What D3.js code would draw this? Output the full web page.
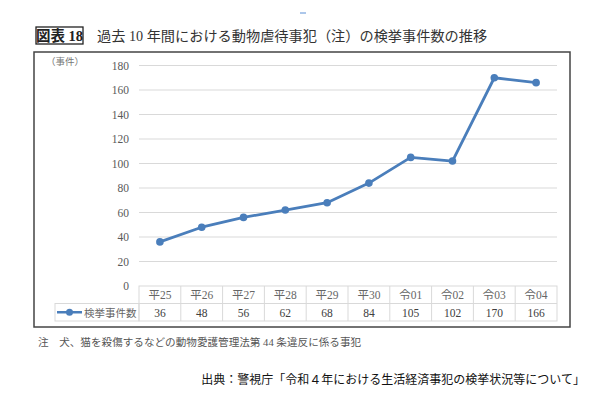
<!DOCTYPE html>
<html>
<head>
<meta charset="utf-8">
<script src="https://cdn.jsdelivr.net/npm/d3@7"></script>
<style>
  body { margin: 0; background: #fff; }
  text { font-family: "Liberation Serif", "Noto Sans CJK JP", serif; }
</style>
</head>
<body>
<script>
    var years = ["平25", "平26", "平27", "平28", "平29", "平30", "令01", "令02", "令03", "令04"];
    var cases = [36, 48, 56, 62, 68, 84, 105, 102, 170, 166];
    var yTicks = [0, 20, 40, 60, 80, 100, 120, 140, 160, 180];
    var seriesName = "検挙事件数";

    var width = 600, height = 400;
    var blue = "#4a7ebb";

    var svg = d3.select("body")
        .append("svg").attr("width", width).attr("height", height);

    // tiny mark at the top of the page
    svg.append("line")
        .attr("x1", 300).attr("x2", 306).attr("y1", 13).attr("y2", 13)
        .style("stroke", "#5b8fd6").style("stroke-width", 1);

    // title box
    svg.append("rect")
        .attr("x", 36).attr("y", 27).attr("width", 47).attr("height", 17)
        .style("fill", "none").style("stroke", "#222").style("stroke-width", 1.3);
    svg.append("text")
        .attr("x", 59.5).attr("y", 41)
        .attr("text-anchor", "middle")
        .style("font-size", "14.5px").style("font-weight", "bold").style("fill", "#222")
        .text("図表 18");
    svg.append("text")
        .attr("x", 97).attr("y", 41)
        .style("font-size", "14.2px").style("fill", "#333")
        .text("過去 10 年間における動物虐待事犯（注）の検挙事件数の推移");

    // chart frame
    svg.append("rect")
        .attr("x", 34).attr("y", 52).attr("width", 536).attr("height", 275)
        .style("fill", "none").style("stroke", "#444").style("stroke-width", 1.5);

    var x = d3.scaleBand().domain(years).range([139, 557]);
    var y = d3.scaleLinear().domain([0, 180]).range([286, 65.5]);

    // gridlines
    svg.append("g").selectAll("line")
        .data(yTicks.filter(function(d){ return d > 0; }))
        .enter().append("line")
        .attr("x1", 139).attr("x2", 557)
        .attr("y1", function(d){ return y(d); })
        .attr("y2", function(d){ return y(d); })
        .style("stroke", "#d9d9d9").style("stroke-width", 1);

    // y axis labels
    var yAxis = d3.axisLeft(y).tickValues(yTicks).tickSize(0).tickPadding(10);
    var ya = svg.append("g").attr("transform", "translate(139,0)").call(yAxis);
    ya.select(".domain").remove();
    ya.selectAll("text")
        .style("font-family", "Liberation Serif, serif")
        .style("font-size", "11.5px").style("fill", "#595959");

    svg.append("text")
        .attr("x", 46).attr("y", 65)
        .style("font-size", "9.5px").style("fill", "#777")
        .text("（事件）");

    // data table
    var table = svg.append("g");
    var rowTop = 286, rowH = 17.5;
    table.append("rect")
        .attr("x", 139).attr("y", rowTop).attr("width", 418).attr("height", rowH * 2)
        .style("fill", "none").style("stroke", "#d9d9d9");
    table.append("rect")
        .attr("x", 55).attr("y", rowTop + rowH).attr("width", 84).attr("height", rowH)
        .style("fill", "none").style("stroke", "#d9d9d9");
    table.append("line")
        .attr("x1", 139).attr("x2", 557).attr("y1", rowTop + rowH).attr("y2", rowTop + rowH)
        .style("stroke", "#d9d9d9");
    table.selectAll(".col").data(years.slice(1)).enter().append("line")
        .attr("x1", function(d){ return x(d); })
        .attr("x2", function(d){ return x(d); })
        .attr("y1", rowTop).attr("y2", rowTop + rowH * 2)
        .style("stroke", "#d9d9d9");

    table.selectAll(".cat").data(years).enter().append("text")
        .attr("x", function(d){ return x(d) + x.bandwidth() / 2; })
        .attr("y", rowTop + 13)
        .attr("text-anchor", "middle")
        .style("font-size", "11.5px").style("fill", "#666")
        .text(function(d){ return d; });
    table.selectAll(".val").data(cases).enter().append("text")
        .attr("x", function(d, i){ return x(years[i]) + x.bandwidth() / 2; })
        .attr("y", rowTop + rowH + 13)
        .attr("text-anchor", "middle")
        .style("font-size", "11.5px").style("fill", "#404040")
        .text(function(d){ return d; });

    // legend key in the table
    table.append("line")
        .attr("x1", 57).attr("x2", 82).attr("y1", rowTop + rowH * 1.5).attr("y2", rowTop + rowH * 1.5)
        .style("stroke", blue).style("stroke-width", 2.5);
    table.append("circle")
        .attr("cx", 69.5).attr("cy", rowTop + rowH * 1.5).attr("r", 3.5)
        .style("fill", blue);
    table.append("text")
        .attr("x", 84).attr("y", rowTop + rowH + 13)
        .style("font-size", "10.5px").style("fill", "#666")
        .text(seriesName);

    // line series
    var line = d3.line()
        .x(function(d, i){ return x(years[i]) + x.bandwidth() / 2; })
        .y(function(d){ return y(d); });
    svg.append("path").datum(cases)
        .attr("d", line)
        .style("fill", "none").style("stroke", blue).style("stroke-width", 2.8)
        .style("stroke-linejoin", "round");
    svg.selectAll(".pt").data(cases).enter().append("circle")
        .attr("cx", function(d, i){ return x(years[i]) + x.bandwidth() / 2; })
        .attr("cy", function(d){ return y(d); })
        .attr("r", 3.8)
        .style("fill", blue);

    // footnotes
    svg.append("text")
        .attr("x", 38).attr("y", 346)
        .style("font-size", "10.6px").style("fill", "#555")
        .text("注　犬、猫を殺傷するなどの動物愛護管理法第 44 条違反に係る事犯");
    svg.append("text")
        .attr("x", 585).attr("y", 384)
        .attr("text-anchor", "end")
        .style("font-size", "12px").style("fill", "#111")
        .text("出典：警視庁「令和４年における生活経済事犯の検挙状況等について」");
</script>
</body>
</html>
